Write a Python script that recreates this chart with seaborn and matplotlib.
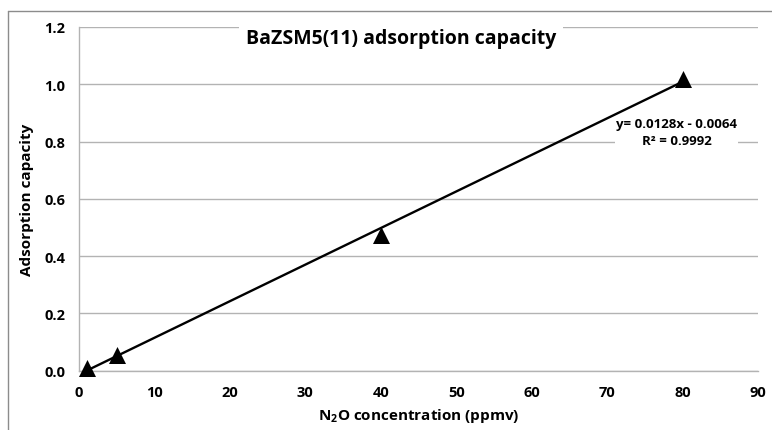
import numpy as np
import pandas as pd
import matplotlib
matplotlib.use("Agg")
import matplotlib.pyplot as plt
import seaborn as sns
from matplotlib.lines import Line2D

# Data
concentration = [1, 5, 40, 80]
capacity = [0.008, 0.055, 0.475, 1.02]
x_ticks = [0, 10, 20, 30, 40, 50, 60, 70, 80, 90]
y_ticks = [0.0, 0.2, 0.4, 0.6, 0.8, 1.0, 1.2]
title = "BaZSM5(11) adsorption capacity"
equation = "y= 0.0128x - 0.0064"
r2_text = "R² = 0.9992"

df = pd.DataFrame({"conc": concentration, "cap": capacity})

sns.set_theme(style="white")
fam = "Open Sans"
plt.rcParams["font.family"] = [fam, "DejaVu Sans"]
plt.rcParams["font.weight"] = "bold"
plt.rcParams["text.color"] = "black"
plt.rcParams["axes.labelcolor"] = "black"
plt.rcParams["mathtext.fontset"] = "custom"
plt.rcParams["mathtext.rm"] = fam + ":bold"
plt.rcParams["mathtext.default"] = "rm"

fig = plt.figure(figsize=(7.72, 4.31), dpi=100)
ax = fig.add_axes([79/772, 1 - 371.7/431, (758-79)/772, (371.7-28)/431])

grid_c = "#b3b3b3"
ax.set_xlim(0, 90)
ax.set_ylim(0, 1.2)
ax.set_xticks(x_ticks)
ax.set_yticks(y_ticks)
ax.set_xticklabels([str(v) for v in x_ticks], fontsize=10.5, fontweight="bold")
ax.set_yticklabels([f"{v:.1f}" for v in y_ticks], fontsize=10.5, fontweight="bold")
ax.yaxis.grid(True, color=grid_c, linewidth=1.0)
ax.xaxis.grid(False)
ax.set_axisbelow(True)
for s in ["top", "right"]:
    ax.spines[s].set_visible(False)
for s in ["left", "bottom"]:
    ax.spines[s].set_color(grid_c)
    ax.spines[s].set_linewidth(1.0)
ax.tick_params(axis="both", which="major", direction="out", length=5,
               width=1.0, color=grid_c, pad=5, labelcolor="black")

sns.regplot(data=df, x="conc", y="cap", ax=ax, ci=None, truncate=True, marker="^",
            scatter_kws=dict(s=150, color="black", alpha=1, zorder=3, linewidths=0,
                             clip_on=False),
            line_kws=dict(color="black", linewidth=1.7, zorder=4))

ax.set_xlabel("N$_2$O concentration (ppmv)", fontsize=11, fontweight="bold",
              labelpad=5, color="black")
ax.set_ylabel("Adsorption capacity", fontsize=11, fontweight="bold",
              labelpad=7, color="black")

ax.text(0.474, 0.967, title, transform=ax.transAxes, ha="center", va="center",
        fontsize=14, fontweight="bold", color="black",
        bbox=dict(boxstyle="square,pad=0.35", fc="white", ec="none"), zorder=5)

ax.text(0.88, 0.695, equation + "\n" + r2_text, transform=ax.transAxes,
        ha="center", va="center", fontsize=9.5, fontweight="bold", linespacing=1.35,
        multialignment="center", color="black",
        bbox=dict(boxstyle="square,pad=0.1", fc="white", ec="none"), zorder=5)

# outer chart border (top and left visible)
fig.add_artist(Line2D([8/772, 1], [1 - 12/431, 1 - 12/431], transform=fig.transFigure,
                      color="#8c8c8c", linewidth=1.0))
fig.add_artist(Line2D([8/772, 8/772], [0, 1 - 12/431], transform=fig.transFigure,
                      color="#8c8c8c", linewidth=1.0))

fig.savefig("out.png", dpi=100)
